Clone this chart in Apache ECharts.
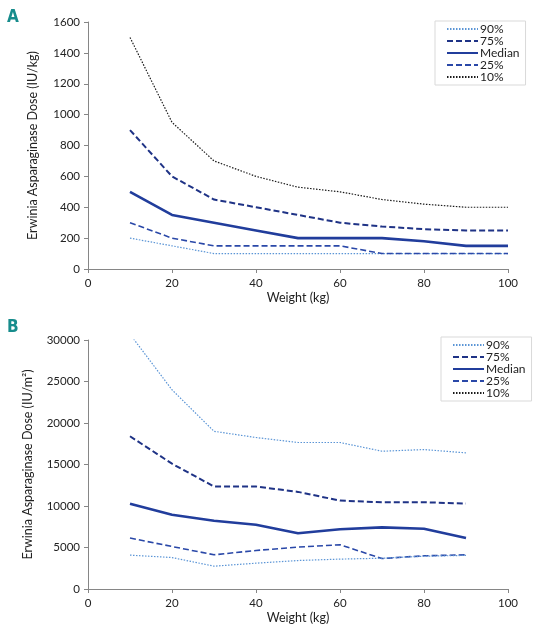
<!DOCTYPE html>
<html>
<head>
<meta charset="utf-8">
<script src="https://cdn.jsdelivr.net/npm/echarts@6/dist/echarts.min.js"></script>
<style>
html,body{margin:0;padding:0;background:#fff;}
#chart{width:538px;height:634px;}
</style>
</head>
<body>
<div id="chart"></div>
<script>
// ---- Data ----
var weights = [10, 20, 30, 40, 50, 60, 70, 80, 90, 100];
var weightsB = [10, 20, 30, 40, 50, 60, 70, 80, 90];
var xTicks = [0, 20, 40, 60, 80, 100];
var legendNames = ['90%', '75%', 'Median', '25%', '10%'];

// Panel A (IU/kg)
var a10 = [1500, 950, 700, 600, 530, 500, 450, 420, 400, 400];
var a75 = [900, 600, 450, 400, 350, 300, 275, 258, 250, 250];
var aMedian = [500, 350, 300, 250, 200, 200, 200, 180, 150, 150];
var a25 = [300, 200, 150, 150, 150, 150, 100, 100, 100, 100];
var a90 = [200, 150, 100, 100, 100, 100, 100, 100, 100, 100];

// Panel B (IU/m2)
var bTop = [30700, 24000, 19000, 18250, 17650, 17650, 16600, 16800, 16400];
var b75 = [18400, 15100, 12350, 12350, 11700, 10650, 10450, 10450, 10300];
var bMedian = [10280, 8950, 8220, 7750, 6720, 7200, 7420, 7260, 6140];
var b25 = [6140, 5120, 4120, 4640, 5050, 5330, 3670, 4000, 4120];
var bBottom = [4080, 3790, 2750, 3110, 3430, 3600, 3710, 3950, 4050];

function pairs(xs, ys) { return xs.map(function (x, i) { return [x, ys[i]]; }); }

var FONT = 'Lato';
var styles = {
  '10%': { color: '#1a1a1a', width: 1.2, type: [1.5, 1.5] },
  '75%': { color: '#1f3386', width: 2, type: [6, 3] },
  'Median': { color: '#213d9c', width: 2.6, type: 'solid' },
  '25%': { color: '#2a48a8', width: 1.6, type: [6, 3] },
  '90%': { color: '#5b95d6', width: 1.2, type: [1.5, 1.5] }
};
function line(name, xs, ys, idx, styleKey) {
  var s = styles[styleKey || name];
  return {
    name: name, type: 'line', xAxisIndex: idx, yAxisIndex: idx,
    data: pairs(xs, ys), symbol: 'none', smooth: false, clip: true,
    lineStyle: { color: s.color, width: s.width, type: s.type },
    itemStyle: { color: s.color },
    emphasis: { disabled: true }
  };
}

var axisCommon = {
  axisLine: { lineStyle: { color: '#868686', width: 1 } },
  axisTick: { show: true, length: 4, lineStyle: { color: '#868686' } },
  axisLabel: { color: '#222', fontFamily: FONT, fontSize: 11.5, formatter: function (v) { return String(v); } },
  splitLine: { show: false },
  nameTextStyle: { color: '#222', fontFamily: FONT, fontSize: 12.5 }
};
function ax(extra) {
  var base = {
    axisLine: axisCommon.axisLine, axisTick: axisCommon.axisTick,
    axisLabel: axisCommon.axisLabel, splitLine: axisCommon.splitLine,
    nameTextStyle: axisCommon.nameTextStyle
  };
  return Object.assign(base, extra);
}

var legendCommon = {
  orient: 'vertical',
  data: legendNames,
  itemWidth: 31, itemHeight: 10, itemGap: 0,
  borderColor: '#d9d9d9', borderWidth: 1,
  padding: [2, 6, 2, 11],
  itemStyle: { opacity: 0 },
  textStyle: { color: '#222', fontFamily: FONT, fontSize: 12, padding: [0, 0, 0, -3] },
  selectedMode: false
};

var option = {
  animation: false,
  backgroundColor: '#fff',
  grid: [
    { left: 88, right: 30, top: 22, height: 247 },
    { left: 88, right: 30, top: 340, height: 249 }
  ],
  xAxis: [
    ax({ type: 'value', gridIndex: 0, min: 0, max: 100, interval: 20, name: 'Weight (kg)', nameLocation: 'middle', nameGap: 22 }),
    ax({ type: 'value', gridIndex: 1, min: 0, max: 100, interval: 20, name: 'Weight (kg)', nameLocation: 'middle', nameGap: 22 })
  ],
  yAxis: [
    ax({ type: 'value', gridIndex: 0, min: 0, max: 1600, interval: 200, name: 'Erwinia Asparaginase Dose (IU/kg)', nameLocation: 'middle', nameGap: 49 }),
    ax({ type: 'value', gridIndex: 1, min: 0, max: 30000, interval: 5000, name: 'Erwinia Asparaginase Dose (IU/m²)', nameLocation: 'middle', nameGap: 54 })
  ],
  legend: [
    Object.assign({}, legendCommon, { left: 435, top: 21 }),
    Object.assign({}, legendCommon, { left: 441, top: 337 })
  ],
  graphic: [
    { type: 'text', left: 7, top: 9, style: { text: 'A', fill: '#178c8c', font: 'bold 17px "DejaVu Sans Condensed", "Liberation Sans Narrow", sans-serif' } },
    { type: 'text', left: 7, top: 319, style: { text: 'B', fill: '#178c8c', font: 'bold 17px "DejaVu Sans Condensed", "Liberation Sans Narrow", sans-serif' } }
  ],
  series: [
    line('90%', weights, a90, 0),
    line('75%', weights, a75, 0),
    line('Median', weights, aMedian, 0),
    line('25%', weights, a25, 0),
    line('10%', weights, a10, 0),
    line('10%', weightsB, bTop, 1, '90%'),
    line('75%', weightsB, b75, 1),
    line('Median', weightsB, bMedian, 1),
    line('25%', weightsB, b25, 1),
    line('90%', weightsB, bBottom, 1)
  ]
};

var chart = echarts.init(document.getElementById('chart'), null, { renderer: 'canvas' });
chart.setOption(option);
</script>
</body>
</html>
